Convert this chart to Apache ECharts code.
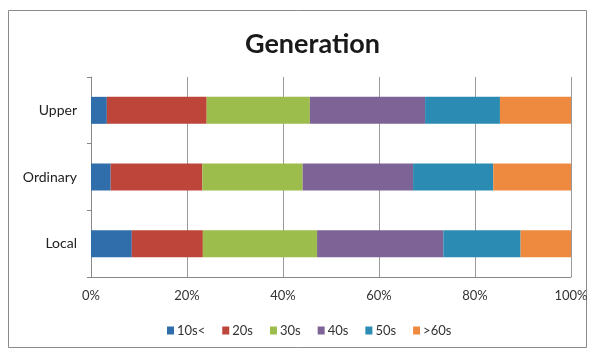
<!DOCTYPE html>
<html>
<head>
<meta charset="utf-8">
<script src="https://cdn.jsdelivr.net/npm/echarts@6/dist/echarts.min.js"></script>
<style>
  html, body { margin: 0; padding: 0; background: #fff; }
  #chart { width: 597px; height: 350px; }
</style>
</head>
<body>
<div id="chart"></div>
<script>
// categories (bottom to top as drawn)
var categories = ['Local', 'Ordinary', 'Upper']
var seriesNames = ['10s<', '20s', '30s', '40s', '50s', '>60s']
// shares in % for Local, Ordinary, Upper
var s10 = [8.5, 4.1, 3.3]
var s20 = [14.8, 19.1, 20.8]
var s30 = [23.8, 20.9, 21.5]
var s40 = [26.3, 23.0, 24.0]
var s50 = [16.1, 16.7, 15.6]
var s60 = [10.5, 16.2, 14.8]
var xTicks = ['0%', '20%', '40%', '60%', '80%', '100%']

var colors = ['#2f6eab', '#bd4539', '#9cbd4c', '#7e6397', '#2c8bb2', '#ee8a3f']
var allData = [s10, s20, s30, s40, s50, s60]

var series = []
for (var i = 0; i < seriesNames.length; i++) {
  series.push({
    name: seriesNames[i],
    type: 'bar',
    stack: 'total',
    barWidth: 27,
    data: allData[i],
    itemStyle: { color: colors[i] }
  })
}

var myChart = echarts.init(document.getElementById('chart'))
myChart.setOption({
  animation: false,
  textStyle: { fontFamily: 'Lato' },
  title: {
    text: 'Generation',
    left: 240,
    top: 26,
    textStyle: { fontFamily: 'Lato', fontSize: 27, fontWeight: 'bold', color: '#1a1a1a' }
  },
  legend: {
    data: seriesNames,
    left: 162,
    top: 319,
    itemWidth: 7,
    itemHeight: 8,
    itemGap: 17,
    icon: 'rect',
    textStyle: { fontSize: 13, color: '#333', padding: [0, 0, 0, -2] }
  },
  grid: { left: 91, right: 26, top: 77, bottom: 73 },
  xAxis: {
    type: 'value',
    min: 0,
    max: 100,
    interval: 20,
    axisLabel: {
      fontSize: 13,
      color: '#333',
      margin: 12,
      formatter: function (v) { return xTicks[v / 20] }
    },
    axisLine: { show: true, lineStyle: { color: '#888' } },
    axisTick: { show: false },
    splitLine: { show: true, lineStyle: { color: '#9a9a9a', width: 1 } }
  },
  yAxis: {
    type: 'category',
    data: categories,
    axisLabel: { fontSize: 14, color: '#222', margin: 14 },
    axisLine: { show: true, lineStyle: { color: '#888' } },
    axisTick: { show: true, length: 4, lineStyle: { color: '#888' } }
  },
  graphic: [{
    type: 'rect',
    shape: { x: 8.5, y: 10.5, width: 578, height: 337 },
    style: { fill: 'none', stroke: '#8a8a8a', lineWidth: 1 },
    silent: true
  }],
  series: series
})
</script>
</body>
</html>
